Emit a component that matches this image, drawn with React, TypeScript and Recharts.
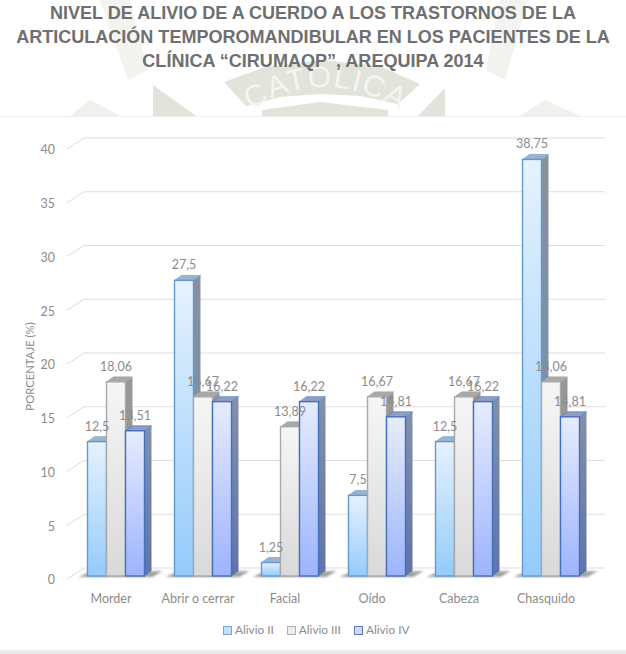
import React from "react";
import { BarChart, Bar, XAxis, YAxis, CartesianGrid, LabelList } from "recharts";

const categories = ["Morder", "Abrir o cerrar", "Facial", "Oído", "Cabeza", "Chasquido"];
const alivioII = [12.5, 27.5, 1.25, 7.5, 12.5, 38.75];
const alivioIII = [18.06, 16.67, 13.89, 16.67, 16.67, 18.06];
const alivioIV = [13.51, 16.22, 16.22, 14.81, 16.22, 14.81];
const yTicks = [0, 5, 10, 15, 20, 25, 30, 35, 40];
const titleLines = [
  "NIVEL DE ALIVIO DE A CUERDO A LOS TRASTORNOS DE LA",
  "ARTICULACIÓN TEMPOROMANDIBULAR EN LOS PACIENTES DE LA",
  "CLÍNICA “CIRUMAQP”, AREQUIPA 2014",
];

const rows = categories.map((name, i) => ({
  name,
  a: alivioII[i],
  b: alivioIII[i],
  c: alivioIV[i],
}));

const FONT = "Lato, 'Open Sans', sans-serif";
const TXT = "#8c8c8c";
const DX = 7;
const DY = 5;

const styles = {
  a: { id: "ga", stroke: "#5f9ad6", top: "#9fb3c6", side: "sa", stops: ["#e6f2fe", "#94cbfb"], sideStops: ["#8a9099", "#6a92bd"] },
  b: { id: "gb", stroke: "#a9a9a9", top: "#a8a8a8", side: "sb", stops: ["#f6f6f6", "#d9d9d9"], sideStops: ["#979797", "#9a9a9a"] },
  c: { id: "gc", stroke: "#4470c0", top: "#8f9fc0", side: "sc", stops: ["#e6ecfe", "#9db4fd"], sideStops: ["#8490a8", "#5f74a8"] },
};

const make3D = (key: "a" | "b" | "c") => (props: any) => {
  const { x, y, width: w, height: h } = props;
  const s = styles[key];
  const base = y + h;
  return (
    <g>
      {key === "a" && (
        <polygon
          points={`${x - 9},${base + 1} ${x},${base - 3} ${x + 3 * w + 18},${base - 5} ${x + 3 * w + 8},${base + 1}`}
          fill="#555"
          opacity={0.55}
          filter="url(#soft)"
        />
      )}
      <polygon points={`${x + w},${y} ${x + w + DX},${y - DY} ${x + w + DX},${base - DY} ${x + w},${base}`} fill={`url(#${s.side})`} />
      <polygon points={`${x},${y} ${x + DX},${y - DY} ${x + w + DX},${y - DY} ${x + w},${y}`} fill={s.top} stroke={s.stroke} strokeWidth={0.6} />
      <rect x={x} y={y} width={w} height={h} fill={`url(#${s.id})`} stroke={s.stroke} strokeWidth={1.4} />
    </g>
  );
};

const fmt = (v: any) => String(v).replace(".", ",");

const YTick = (props: any) => {
  const { x, y, payload } = props;
  return (
    <g>
      <line x1={x - 6} y1={y + 3} x2={x + 11} y2={y - 8} stroke="#dcdcdc" strokeWidth={1} />
      <text x={x - 18} y={y + 4} dy="0.35em" textAnchor="end" fontFamily={FONT} fontSize={12.5} fill={TXT}>
        {payload.value}
      </text>
    </g>
  );
};

const XTick = (props: any) => {
  const { x, y, payload } = props;
  return (
    <text x={x - 5.5} y={y} dy="0.71em" textAnchor="middle" fontFamily={FONT} fontSize={12.5} fill={TXT}>
      {payload.value}
    </text>
  );
};

const GridLine = (props: any) => {
  const { x1, x2, y1 } = props;
  return <line x1={x1 + 11} x2={x2 + 10} y1={y1 - 8} y2={y1 - 8} stroke="#dedede" strokeWidth={1.2} />;
};

const YLabel = (props: any) => {
  const { viewBox } = props;
  const cx = viewBox.x + 30;
  const cy = viewBox.y + viewBox.height / 2 + 5.5;
  return (
    <text
      x={cx}
      y={cy}
      dy="0.35em"
      textAnchor="middle"
      transform={`rotate(-90 ${cx} ${cy})`}
      fontFamily={FONT}
      fontSize={11.3}
      fill={TXT}
    >
      PORCENTAJE (%)
    </text>
  );
};

const legendItems = [
  { label: "Alivio II", fill: "#c4e0fb", stroke: "#72a8dc" },
  { label: "Alivio III", fill: "#ededed", stroke: "#b0b0b0" },
  { label: "Alivio IV", fill: "#d0dafc", stroke: "#5578c4" },
];

const LegendBox = () => (
  <div
    style={{
      position: "absolute",
      left: 223,
      top: 622,
      display: "flex",
      gap: 13,
      fontFamily: FONT,
      fontSize: 11.8,
      lineHeight: "16px",
      color: TXT,
      whiteSpace: "nowrap",
    }}
  >
    {legendItems.map((it) => (
      <span key={it.label} style={{ display: "inline-flex", alignItems: "center", gap: 3 }}>
        <span style={{ width: 7, height: 7, background: it.fill, border: `1px solid ${it.stroke}`, display: "inline-block" }} />
        {it.label}
      </span>
    ))}
  </div>
);

const seriesKeys: ("a" | "b" | "c")[] = ["a", "b", "c"];

export default function App() {
  return (
    <div style={{ position: "absolute", left: 0, top: 0, width: 626, height: 654, background: "#fff", overflow: "hidden" }}>
      <svg width={626} height={654} style={{ position: "absolute", left: 0, top: 0 }}>
        <defs>
          {seriesKeys.map((k) => (
            <React.Fragment key={k}>
              <linearGradient id={styles[k].id} x1="0" y1="0" x2="0" y2="1">
                <stop offset="0%" stopColor={styles[k].stops[0]} />
                <stop offset="100%" stopColor={styles[k].stops[1]} />
              </linearGradient>
              <linearGradient id={styles[k].side} x1="0" y1="0" x2="0" y2="1">
                <stop offset="0%" stopColor={styles[k].sideStops[0]} />
                <stop offset="100%" stopColor={styles[k].sideStops[1]} />
              </linearGradient>
            </React.Fragment>
          ))}
          <filter id="soft" x="-10%" y="-100%" width="120%" height="300%">
            <feGaussianBlur stdDeviation="1.2" />
          </filter>
          <path id="arc" d="M 248 112 Q 322 62 404 112" fill="none" />
        </defs>
        <g fill="#e0e4da">
          <polygon points="224,82 262,68 320,60 380,66 420,84 398,104 360,96 320,94 280,97 246,106" />
          <polygon points="153,85 196,116 153,116" />
          <polygon points="445,88 445,116 418,116" />
          <polygon points="262,110 320,102 388,110 388,116 262,116" />
          <polygon points="100,0 130,0 148,70 128,80" opacity={0.4} />
          <polygon points="500,0 528,0 505,80 486,70" opacity={0.4} />
          <polygon points="70,116 90,100 120,116" opacity={0.5} />
          <polygon points="520,116 545,100 580,116" opacity={0.5} />
        </g>
        <text fontFamily="'Liberation Sans', sans-serif" fontSize={30} fill="#f4f5f2" letterSpacing={1.5}>
          <textPath href="#arc" startOffset="2%">CATOLICA</textPath>
        </text>
        <rect x={0} y={116} width={626} height={534} fill="#fff" />
        <line x1={0} x2={626} y1={116.5} y2={116.5} stroke="#efefef" />
        <rect x={0} y={650} width={626} height={4} fill="#ececec" />
      </svg>

      <div
        style={{
          position: "absolute",
          left: 0,
          top: 1,
          width: 626,
          textAlign: "center",
          fontFamily: "'Liberation Sans', Arial, sans-serif",
          fontWeight: 700,
          fontSize: 18.05,
          lineHeight: "24px",
          color: "#6f6f6f",
        }}
      >
        {titleLines.map((l) => (
          <div key={l} style={{ whiteSpace: "nowrap" }}>{l}</div>
        ))}
      </div>

      <div style={{ position: "absolute", left: 0, top: 0 }}>
        <BarChart
          width={626}
          height={654}
          data={rows}
          margin={{ top: 146, right: 31, bottom: 0, left: 0 }}
          barGap={0}
          barCategoryGap={14.5}
          style={{ background: "transparent" }}
        >
          <CartesianGrid vertical={false} horizontal={GridLine as any} />
          <XAxis dataKey="name" height={78} axisLine={false} tickLine={false} tickMargin={12} tick={XTick as any} interval={0} />
          <XAxis xAxisId="labels" dataKey="name" hide />
          <YAxis
            width={73}
            domain={[0, 40]}
            ticks={yTicks}
            axisLine={false}
            tickLine={false}
            tickSize={0}
            tickMargin={0}
            tick={YTick as any}
            interval={0}
            label={YLabel as any}
          />
          {seriesKeys.map((k) => (
            <Bar key={k} dataKey={k} isAnimationActive={false} shape={make3D(k) as any} />
          ))}
          {seriesKeys.map((k) => (
            <Bar key={`l${k}`} xAxisId="labels" dataKey={k} isAnimationActive={false} fill="none" legendType="none">
              <LabelList
                dataKey={k}
                position="top"
                offset={11}
                formatter={fmt}
                style={{ fontFamily: FONT, fontSize: 12.5, fill: TXT }}
              />
            </Bar>
          ))}
        </BarChart>
      </div>
      <LegendBox />
    </div>
  );
}
